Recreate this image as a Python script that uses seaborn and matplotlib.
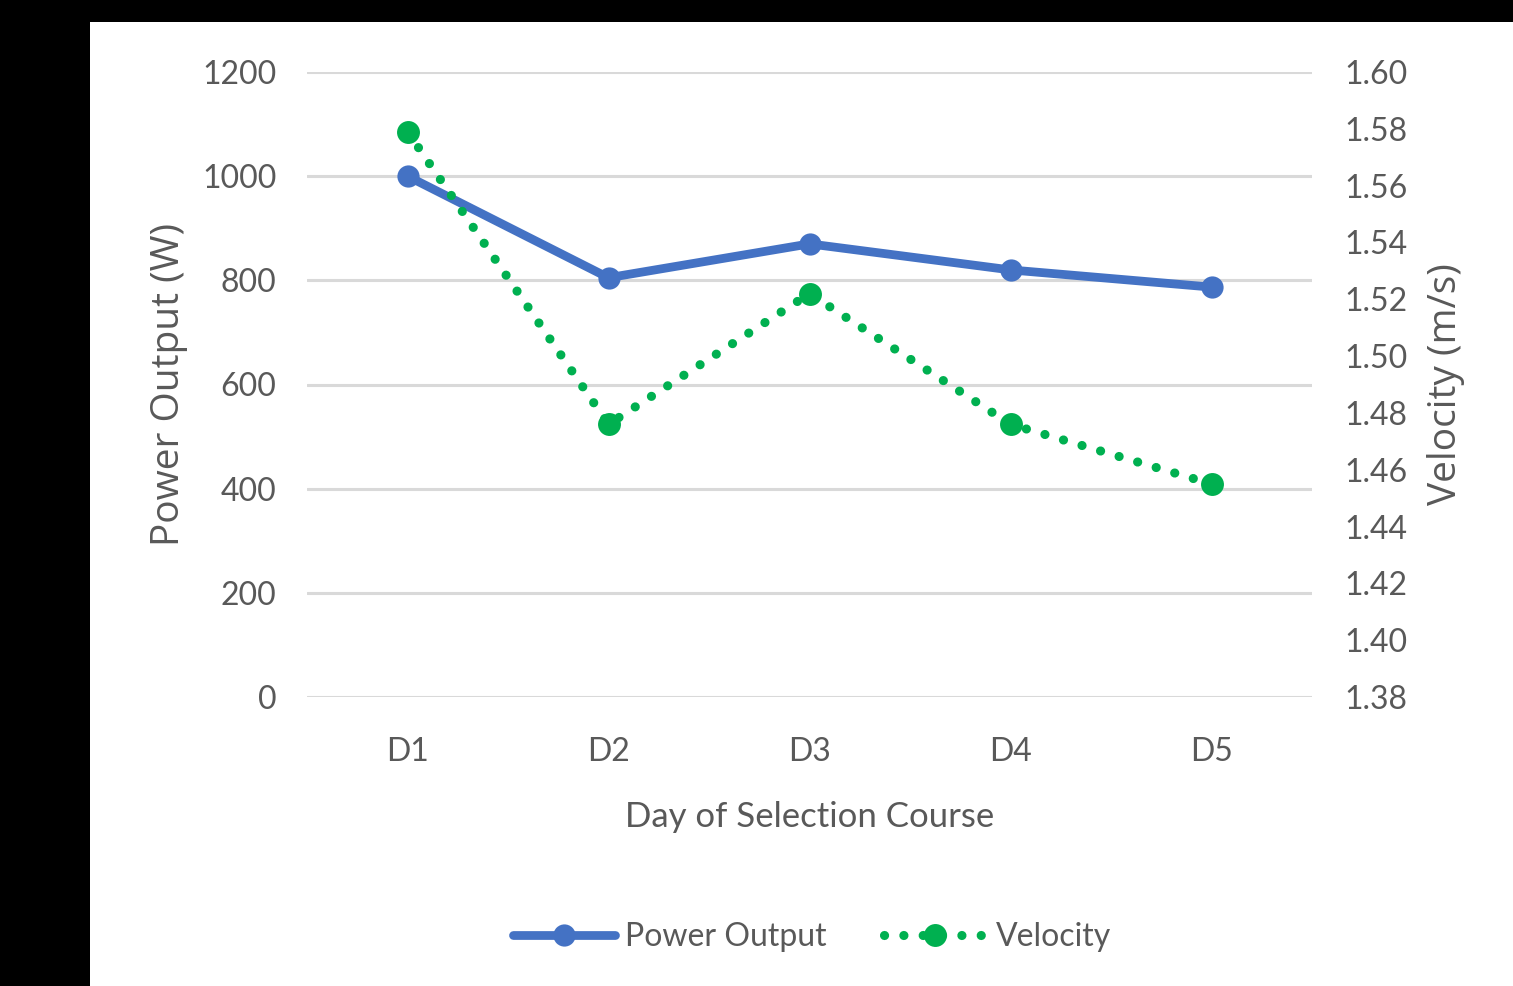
import matplotlib
matplotlib.use("Agg")
import matplotlib.pyplot as plt
import seaborn as sns
import pandas as pd

# data
days = ["D1", "D2", "D3", "D4", "D5"]
power = [1000, 805, 870, 820, 787]
velocity = [1.579, 1.476, 1.522, 1.476, 1.455]

power_ticks = [0, 200, 400, 600, 800, 1000, 1200]
vel_ticks = [1.38, 1.40, 1.42, 1.44, 1.46, 1.48, 1.50, 1.52, 1.54, 1.56, 1.58, 1.60]

df = pd.DataFrame({"day": days, "power": power, "velocity": velocity})

sns.set_style("white")
plt.rcParams["font.family"] = ["Lato", "DejaVu Sans"]

blue = "#4472c4"
green = "#00b050"
grey = "#595959"

fig = plt.figure(figsize=(15.13, 9.86), dpi=100)
fig.patch.set_facecolor("black")
# white chart panel
panel = plt.Rectangle((90 / 1513, 0), 1, 1 - 22 / 986, transform=fig.transFigure,
                      facecolor="white", edgecolor="none", zorder=-10)
fig.add_artist(panel)

ax = fig.add_axes([307 / 1513, 1 - 697 / 986, 1005 / 1513, 625 / 986])
ax.set_facecolor("none")
ax2 = ax.twinx()
ax2.set_facecolor("none")

sns.lineplot(data=df, x="day", y="power", ax=ax, color=blue, linewidth=6.3,
             marker="o", markersize=16, markeredgewidth=0, label="Power Output",
             legend=False)
sns.lineplot(data=df, x="day", y="velocity", ax=ax2, color=green, linewidth=6.6,
             marker="o", markersize=16.5, markeredgewidth=0, label="Velocity",
             linestyle=(0, (0.01, 2.1)), dash_capstyle="round", legend=False)

ax.set_ylim(0, 1200)
ax.set_yticks(power_ticks)
ax2.set_ylim(1.38, 1.60)
ax2.set_yticks(vel_ticks)
ax2.set_yticklabels([f"{v:.2f}" for v in vel_ticks])
ax.set_xlim(-0.5, 4.5)

ax.yaxis.grid(True, color="#d9d9d9", linewidth=2.2)
ax.set_axisbelow(True)
for a in (ax, ax2):
    for s in a.spines.values():
        s.set_visible(False)
    a.tick_params(length=0, labelsize=23, labelcolor=grey)
ax.tick_params(axis="y", pad=22)
ax2.tick_params(axis="y", pad=23)
ax.tick_params(axis="x", pad=29)

ax.set_xlabel("Day of Selection Course", fontsize=25, color=grey, labelpad=24)
ax.set_ylabel("Power Output (W)", fontsize=28, color=grey, family="Open Sans", labelpad=10)
ax2.set_ylabel("Velocity (m/s)", fontsize=28, color=grey, family="Open Sans", labelpad=14)

h1, l1 = ax.get_legend_handles_labels()
h2, l2 = ax2.get_legend_handles_labels()
fig.legend(h1 + h2, l1 + l2, loc="center", bbox_to_anchor=(812 / 1513, 1 - 937 / 986),
           ncol=2, frameon=False, fontsize=23, labelcolor=grey, handlelength=3.2,
           handletextpad=0.3, columnspacing=1.8)

fig.savefig("out.png", dpi=100, facecolor=fig.get_facecolor())
